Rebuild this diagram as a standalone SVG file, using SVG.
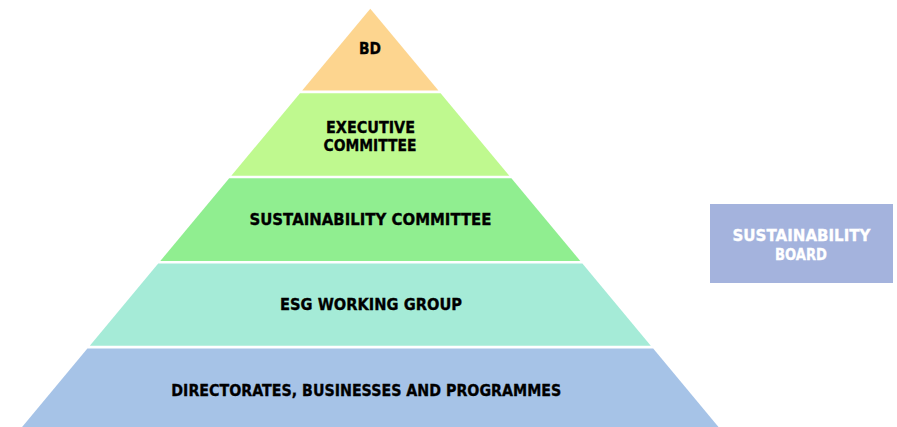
<svg xmlns="http://www.w3.org/2000/svg" width="897" height="427" viewBox="0 0 897 427">
  <style>
    .lbl { font-family: "DejaVu Sans", Verdana, sans-serif; font-weight: bold; font-size: 16.5px; text-anchor: middle; fill: #000000; stroke: #000000; stroke-width: 0.35px; }
    .lbl-w { fill: #ffffff; stroke: #ffffff; }
  </style>
  <rect width="897" height="427" fill="#ffffff"/>

  <!-- Pyramid tiers, apex at top -->
  <g id="tier-bd">
    <polygon points="370.3,8.8 438.4,90.6 302.2,90.6" fill="#FDD58F"/>
    <text class="lbl" x="370" y="54" textLength="22" lengthAdjust="spacingAndGlyphs">BD</text>
  </g>

  <g id="tier-executive-committee">
    <polygon points="300.0,93.2 440.6,93.2 509.3,175.7 231.3,175.7" fill="#BFF98F"/>
    <text class="lbl" x="370.5" y="133" textLength="89" lengthAdjust="spacingAndGlyphs">EXECUTIVE</text>
    <text class="lbl" x="370" y="151" textLength="93" lengthAdjust="spacingAndGlyphs">COMMITTEE</text>
  </g>

  <g id="tier-sustainability-committee">
    <polygon points="229.2,178.3 511.4,178.3 580.3,261 160.3,261" fill="#90EE90"/>
    <text class="lbl" x="370.5" y="225" textLength="242" lengthAdjust="spacingAndGlyphs">SUSTAINABILITY COMMITTEE</text>
  </g>

  <g id="tier-esg-working-group">
    <polygon points="158.2,263.5 582.4,263.5 650.8,345.7 89.8,345.7" fill="#A5EBD7"/>
    <text class="lbl" x="371" y="310" textLength="182" lengthAdjust="spacingAndGlyphs">ESG WORKING GROUP</text>
  </g>

  <g id="tier-directorates">
    <polygon points="87.4,348.5 653.2,348.5 721.0,430 19.6,430" fill="#A6C3E7"/>
    <text class="lbl" x="366.3" y="396" textLength="390" lengthAdjust="spacingAndGlyphs">DIRECTORATES, BUSINESSES AND PROGRAMMES</text>
  </g>

  <!-- Side box -->
  <g id="sustainability-board">
    <rect x="710" y="204" width="183" height="79" fill="#A4B3DD"/>
    <text class="lbl lbl-w" x="801.5" y="241" textLength="138" lengthAdjust="spacingAndGlyphs">SUSTAINABILITY</text>
    <text class="lbl lbl-w" x="801" y="259.5" textLength="52" lengthAdjust="spacingAndGlyphs">BOARD</text>
  </g>

  <g id="connectors"></g>
</svg>
